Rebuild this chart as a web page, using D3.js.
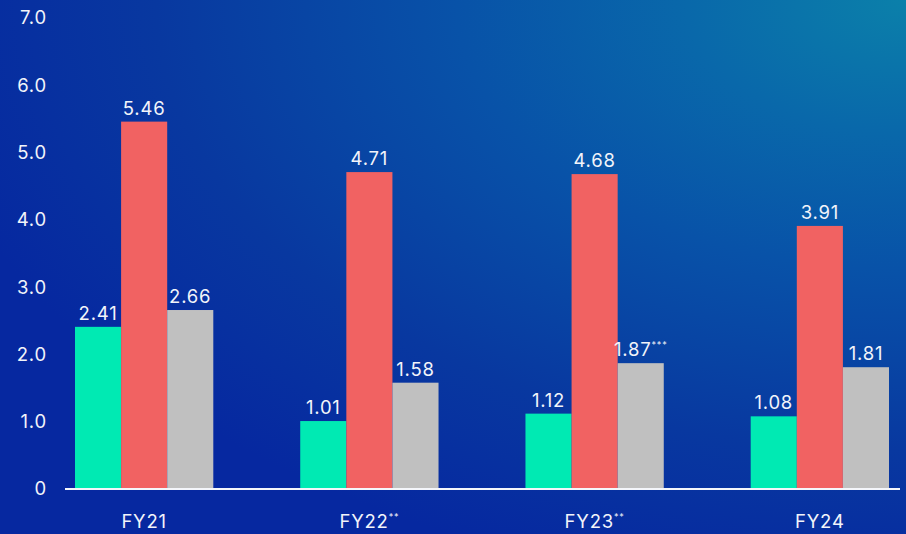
<!DOCTYPE html>
<html>
<head>
<meta charset="utf-8">
<script src="https://cdn.jsdelivr.net/npm/d3@7"></script>
<style>
  html, body { margin: 0; padding: 0; background: #0630a0; }
  svg { display: block; }
  text { font-family: Inter, "Open Sans", sans-serif; fill: #f2f4fa; letter-spacing: 0.8px; }
</style>
</head>
<body>
<svg id="chart" width="906" height="534"></svg>
<script>
// Fiscal years along the x axis (with footnote markers)
const categories = ["FY21", "FY22", "FY23", "FY24"];
const categoryMarks = ["", "**", "**", ""];

// Three series per year
const seriesNames = ["A", "B", "C"];
const seriesA = [2.41, 1.01, 1.12, 1.08];
const seriesB = [5.46, 4.71, 4.68, 3.91];
const seriesC = [2.66, 1.58, 1.87, 1.81];
const seriesCMarks = ["", "", "***", ""];

// Y axis tick labels
const yTicks = [0, 1, 2, 3, 4, 5, 6, 7];
const yTickLabels = ["0", "1.0", "2.0", "3.0", "4.0", "5.0", "6.0", "7.0"];

const colors = { A: "#00eab3", B: "#f16262", C: "#c0c0c0" };

const W = 906, H = 534;
const svg = d3.select("#chart");

// Background gradient, brighter teal in the upper right
const defs = svg.append("defs");
const grad = defs.append("radialGradient")
  .attr("id", "bg")
  .attr("gradientUnits", "userSpaceOnUse")
  .attr("cx", 906).attr("cy", 0).attr("r", 1000)
  .attr("fx", 906).attr("fy", 0)
  .attr("gradientTransform", "translate(906,0) scale(1,0.6) translate(-906,0)");
[[0, "#0b80aa"], [0.22, "#0968aa"], [0.45, "#0852a8"], [0.75, "#0838a0"], [1, "#0628a0"]]
  .forEach(([o, c]) => grad.append("stop").attr("offset", o).attr("stop-color", c));
svg.append("rect").attr("width", W).attr("height", H).attr("fill", "url(#bg)");

const x = d3.scaleBand().domain(categories).range([75, 889]).paddingInner(0.386).paddingOuter(0);
const xs = d3.scaleBand().domain(seriesNames).range([0, x.bandwidth()]).padding(0);
const y = d3.scaleLinear().domain([0, 7]).range([489, 18]);

const rows = categories.map((c, i) => ({
  cat: c,
  values: [
    { key: "A", v: seriesA[i], mark: "" },
    { key: "B", v: seriesB[i], mark: "" },
    { key: "C", v: seriesC[i], mark: seriesCMarks[i] }
  ]
}));

// Y axis labels (no axis line, no gridlines)
const yAxis = d3.axisLeft(y).tickValues(yTicks).tickFormat((d, i) => yTickLabels[i]).tickSize(0).tickPadding(0);
const yg = svg.append("g").attr("transform", "translate(47,0)").call(yAxis);
yg.select(".domain").remove();
yg.selectAll("text").attr("font-size", 18.5).attr("fill", "#f2f4fa")
  .attr("font-family", "Inter, 'Open Sans', sans-serif");

// Bars
const groups = svg.append("g").selectAll("g").data(rows).join("g")
  .attr("transform", d => `translate(${x(d.cat)},0)`);

groups.selectAll("rect").data(d => d.values).join("rect")
  .attr("x", d => xs(d.key))
  .attr("width", xs.bandwidth())
  .attr("y", d => y(d.v))
  .attr("height", d => y(0) - y(d.v))
  .attr("fill", d => colors[d.key]);

// Value labels above bars
const vl = groups.selectAll("text.val").data(d => d.values).join("text")
  .attr("class", "val")
  .attr("x", d => xs(d.key) + xs.bandwidth() / 2)
  .attr("y", d => y(d.v) - 7)
  .attr("text-anchor", "middle")
  .attr("font-size", 18.5);
vl.append("tspan").text(d => d.v.toFixed(2));
vl.filter(d => d.mark).append("tspan")
  .attr("font-size", 9).attr("dy", -8).text(d => d.mark);

// Baseline
svg.append("line")
  .attr("x1", 65).attr("x2", 900)
  .attr("y1", y(0)).attr("y2", y(0))
  .attr("stroke", "#f4f6fb").attr("stroke-width", 2);

// X axis labels
const xl = svg.append("g").selectAll("text").data(categories).join("text")
  .attr("x", d => x(d) + x.bandwidth() / 2)
  .attr("y", 528)
  .attr("text-anchor", "middle")
  .attr("font-size", 18.5);
xl.append("tspan").text(d => d);
xl.filter((d, i) => categoryMarks[i]).append("tspan")
  .attr("font-size", 9).attr("dy", -8).text((d, i) => categoryMarks[categories.indexOf(d)]);
</script>
</body>
</html>
